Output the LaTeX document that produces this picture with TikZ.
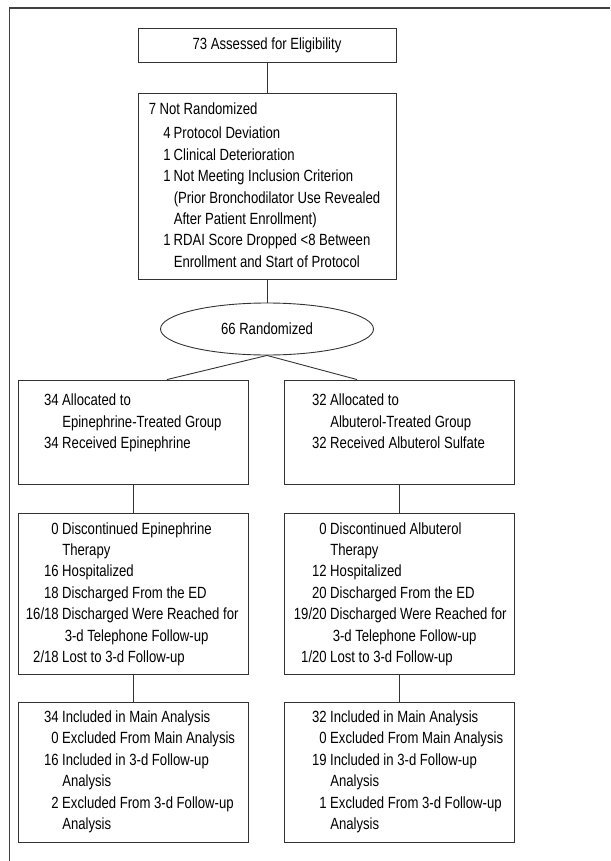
\documentclass[tikz,border=0pt]{standalone}
\usepackage{fontspec}
\setmainfont{Liberation Sans}[FakeStretch=0.81]
\usepackage{array}
\usetikzlibrary{shapes.geometric}
\newcolumntype{R}[1]{>{\raggedleft\arraybackslash}p{#1}}

\begin{document}
\begin{tikzpicture}[x=1pt, y=-1pt,
  every node/.style={font=\fontsize{16.2}{21.4}\selectfont, text=black},
  box/.style={draw=black!80, line width=0.9pt, rectangle, inner sep=0pt},
  oval/.style={draw=black!80, line width=0.9pt, ellipse, inner sep=0pt,
    minimum width=213pt, minimum height=52pt},
  txt/.style={anchor=north west, inner sep=0pt, align=left},
  link/.style={draw=black!80, line width=0.9pt}]
	\useasboundingbox (0,0) rectangle (610,861);
	\draw[black!75, line width=1.8pt] (9.5,861) -- (9.5,8) -- (610,8);

	\node[box, minimum width=258pt, minimum height=34pt] (elig) at (267,45) {73 Assessed for Eligibility};
	\node[box, minimum width=258pt, minimum height=186pt] (notrand) at (267,186) {};
	\node[txt] (notrandtxt) at ([shift={(11,7)}]notrand.north west) {%
		\begin{tabular}{@{}R{22pt}@{\hspace{3pt}}l@{}}
		\multicolumn{2}{@{}l@{}}{7 Not Randomized}\\[2.8pt]
		4 & Protocol Deviation\\
		1 & Clinical Deterioration\\
		1 & Not Meeting Inclusion Criterion\\
		  & (Prior Bronchodilator Use Revealed\\
		  & After Patient Enrollment)\\
		1 & RDAI Score Dropped <8 Between\\
		  & Enrollment and Start of Protocol
		\end{tabular}};
	\node[oval] (rand) at (267,329) {66 Randomized};

	\node[box, minimum width=230pt, minimum height=104pt] (allocE) at (133,432) {};
	\node[box, minimum width=230pt, minimum height=104pt] (allocA) at (399,432) {};
	\node[txt] (allocEtxt) at ([shift={(4,11)}]allocE.north west) {%
		\begin{tabular}{@{}R{37pt}@{\hspace{3.5pt}}l@{}}
		34 & Allocated to\\
		   & Epinephrine-Treated Group\\
		34 & Received Epinephrine
		\end{tabular}};
	\node[txt] (allocAtxt) at ([shift={(6,11)}]allocA.north west) {%
		\begin{tabular}{@{}R{37pt}@{\hspace{3.5pt}}l@{}}
		32 & Allocated to\\
		   & Albuterol-Treated Group\\
		32 & Received Albuterol Sulfate
		\end{tabular}};

	\node[box, minimum width=230pt, minimum height=161pt] (followE) at (133,593.5) {};
	\node[box, minimum width=230pt, minimum height=161pt] (followA) at (399,593.5) {};
	\node[txt] (followEtxt) at ([shift={(4,6.3)}]followE.north west) {%
		\begin{tabular}{@{}R{37pt}@{\hspace{3.5pt}}l@{}}
		0 & Discontinued Epinephrine\\
		  & Therapy\\
		16 & Hospitalized\\
		18 & Discharged From the ED\\
		16/18 & Discharged Were Reached for\\
		  & \hspace{2.5pt}3-d Telephone Follow-up\\
		2/18 & Lost to 3-d Follow-up
		\end{tabular}};
	\node[txt] (followAtxt) at ([shift={(6,6.3)}]followA.north west) {%
		\begin{tabular}{@{}R{37pt}@{\hspace{3.5pt}}l@{}}
		0 & Discontinued Albuterol\\
		  & Therapy\\
		12 & Hospitalized\\
		20 & Discharged From the ED\\
		19/20 & Discharged Were Reached for\\
		  & \hspace{2.5pt}3-d Telephone Follow-up\\
		1/20 & Lost to 3-d Follow-up
		\end{tabular}};

	\node[box, minimum width=230pt, minimum height=140pt] (analysisE) at (133,772) {};
	\node[box, minimum width=230pt, minimum height=140pt] (analysisA) at (399,772) {};
	\node[txt] (analysisEtxt) at ([shift={(4,5.7)}]analysisE.north west) {%
		\begin{tabular}{@{}R{37pt}@{\hspace{3.5pt}}l@{}}
		34 & Included in Main Analysis\\
		0 & Excluded From Main Analysis\\
		16 & Included in 3-d Follow-up\\
		   & Analysis\\
		2 & Excluded From 3-d Follow-up\\
		  & Analysis
		\end{tabular}};
	\node[txt] (analysisAtxt) at ([shift={(6,5.7)}]analysisA.north west) {%
		\begin{tabular}{@{}R{37pt}@{\hspace{3.5pt}}l@{}}
		32 & Included in Main Analysis\\
		0 & Excluded From Main Analysis\\
		19 & Included in 3-d Follow-up\\
		   & Analysis\\
		1 & Excluded From 3-d Follow-up\\
		  & Analysis
		\end{tabular}};

	\draw[link] (elig) -- (notrand);
	\draw[link] (notrand) -- (rand);
	\draw[link] (rand.south) -- ([xshift=34pt]allocE.north);
	\draw[link] (rand.south) -- ([xshift=-42pt]allocA.north);
	\draw[link] (allocE) -- (followE);
	\draw[link] (allocA) -- (followA);
	\draw[link] (followE) -- (analysisE);
	\draw[link] (followA) -- (analysisA);
\end{tikzpicture}
\end{document}
